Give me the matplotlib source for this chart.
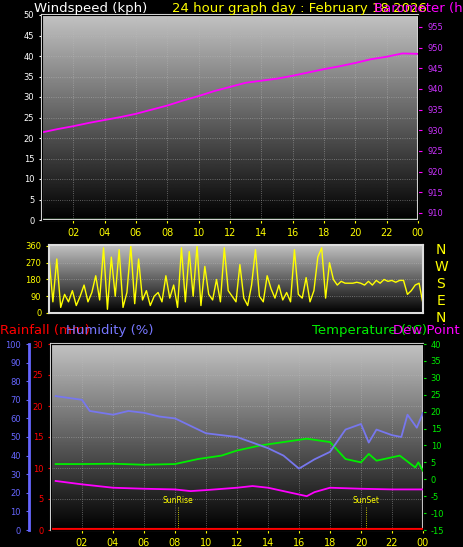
import numpy as np
import matplotlib
matplotlib.use("Agg")
import matplotlib.pyplot as plt
plt.rcParams["axes.unicode_minus"] = False

W, H = 464, 547
hours_p = list(range(25))
pressure = [929.5, 930.3, 931.0, 931.8, 932.5, 933.2, 934.0, 935.0, 936.0, 937.2, 938.3, 939.5,
            940.5, 941.5, 942.0, 942.5, 943.2, 944.0, 944.8, 945.5, 946.3, 947.2, 947.8, 948.6, 948.5]
windspeed = [0.3] * 25

wd_hours = [i * 0.25 for i in range(97)]
wind_dir = [300, 60, 290, 30, 100, 60, 120, 40, 90, 150, 60, 110, 200, 70, 350, 20, 300, 90, 340, 30,
            110, 360, 50, 290, 70, 120, 40, 90, 110, 60, 200, 80, 150, 30, 350, 60, 330, 90, 360, 40,
            250, 100, 70, 180, 60, 350, 120, 90, 60, 260, 80, 40, 150, 340, 90, 60, 200, 130, 80, 150,
            70, 110, 60, 340, 100, 80, 190, 60, 120, 300, 350, 80, 270, 180, 150, 170, 160, 160, 160, 165,
            160, 150, 170, 150, 175, 160, 180, 170, 175, 165, 175, 175, 100, 120, 150, 160, 50]

hum_h = [0.3, 2, 2.5, 4, 5, 6, 7, 8, 9, 10, 11, 12, 13, 14, 15, 16, 17, 18, 19, 20, 20.5, 21, 22, 22.6, 23, 23.6, 24]
humidity = [72, 70, 64, 62, 64, 63, 61, 60, 56, 52, 51, 50, 47, 44, 40, 33, 38, 42, 54, 57, 47, 54, 51, 50, 62, 55, 63]
temp_h = [0.3, 2, 4, 6, 8, 9.5, 11, 12, 13.5, 15, 16.5, 18, 19, 20, 20.5, 21, 22.5, 23.5, 23.7, 24]
temperature = [4.5, 4.5, 4.6, 4.3, 4.5, 6, 7, 8.5, 10, 11, 12, 11, 6, 5, 7.5, 5.5, 7, 3.5, 5, 2.5]
dew_h = [0.3, 2, 4, 6, 8, 9, 10, 12, 13, 14, 15, 16, 16.5, 17, 18, 20, 22, 24]
dewpoint = [-0.5, -1.5, -2.5, -2.8, -3, -3.5, -3.2, -2.5, -2, -2.5, -3.5, -4.5, -5, -3.8, -2.5, -2.8, -3, -3]
rain_h = [0, 24]
rainfall = [0, 0]
xticks = [2, 4, 6, 8, 10, 12, 14, 16, 18, 20, 22, 24]
xticklabels = ["02", "04", "06", "08", "10", "12", "14", "16", "18", "20", "22", "00"]

fig = plt.figure(figsize=(W / 100, H / 100), dpi=100, facecolor="black")

def rect(l, t, r, b):
    return [l / W, 1 - b / H, (r - l) / W, (b - t) / H]

grad = np.linspace(0.76, 0.0, 256).reshape(-1, 1)

def style(ax):
    ax.set_facecolor("black")
    ax.imshow(grad, cmap="gray", vmin=0, vmax=1, aspect="auto", extent=[0, 1, 0, 1],
              transform=ax.transAxes, zorder=0)
    ax.grid(True, color="#bbbbbb", ls=":", lw=0.6, alpha=0.6)
    for s in ax.spines.values():
        s.set_color("#dddddd")
        s.set_linewidth(1.5)
    ax.set_xlim(0, 24)
    ax.set_xticks(xticks)
    ax.set_xticklabels(xticklabels, color="yellow", fontsize=7)
    ax.tick_params(axis="x", colors="yellow", length=2)

# Panel 1
ax1 = fig.add_axes(rect(42, 15, 418, 220))
style(ax1)
ax1.set_ylim(0, 50)
ax1.set_yticks(range(0, 51, 5))
ax1.tick_params(axis="y", colors="white", labelsize=6, length=2)
ax1.plot(hours_p, windspeed, color="#88dd88", lw=1)
axp = ax1.twinx()
axp.set_ylim(908.3, 957.9)
axp.set_yticks(range(910, 956, 5))
axp.tick_params(axis="y", colors="#ff00ff", labelsize=6, length=3)
for lab in axp.get_yticklabels():
    lab.set_color("#cc33ff")
axp.plot(hours_p, pressure, color="#ff00ff", lw=1.3)
fig.text(34 / W, 1 - 12 / H, "Windspeed (kph)", color="white", fontsize=9.5)
fig.text(172 / W, 1 - 12 / H, "24 hour graph day : February 18 2026", color="yellow", fontsize=9.5)
fig.text(374 / W, 1 - 12 / H, "Barometer (hpa)", color="#ff00ff", fontsize=9.5)

# Panel 2
ax2 = fig.add_axes(rect(49, 245, 423, 313))
style(ax2)
ax2.set_xticks([])
ax2.set_ylim(0, 365)
ax2.set_yticks([0, 90, 180, 270, 360])
ax2.tick_params(axis="y", colors="yellow", labelsize=6, length=2)
ax2.plot(wd_hours, wind_dir, color="yellow", lw=1)
for i, c in enumerate("NWSEN"):
    fig.text(441 / W, 1 - (250 + i * 17) / H, c, color="yellow", fontsize=10, ha="center", va="center")

# Panel 3
ax3 = fig.add_axes(rect(51, 344, 423, 530))
style(ax3)
ax3.set_ylim(0, 30)
ax3.set_yticks(range(0, 31, 5))
ax3.tick_params(axis="y", colors="red", labelsize=6, length=2)
ax3.plot(rain_h, rainfall, color="red", lw=3, zorder=5)
for x, lab in [(8.2, "SunRise"), (20.3, "SunSet")]:
    ax3.plot([x, x], [0, 3.8], color="yellow", lw=0.6, ls=":")
    ax3.text(x, 4.3, lab, color="yellow", fontsize=5.5, ha="center")
axt = ax3.twinx()
axt.set_ylim(-15, 40)
axt.set_yticks(range(-15, 41, 5))
axt.tick_params(axis="y", colors="#00ee00", labelsize=6, length=2)
axt.plot(temp_h, temperature, color="#00ee00", lw=1.3)
axt.plot(dew_h, dewpoint, color="#ff00ff", lw=1.3)
axh = ax3.twinx()
axh.set_ylim(0, 100)
axh.yaxis.set_ticks_position("left")
axh.spines["left"].set_position(("axes", -0.06))
axh.spines["left"].set_color("#6666ff")
axh.spines["left"].set_linewidth(2)
axh.set_yticks(range(0, 101, 10))
axh.tick_params(axis="y", colors="#6666ff", labelsize=6, length=2)
axh.plot(hum_h, humidity, color="#7777ee", lw=1.3)
axt.set_zorder(2); axt.patch.set_visible(False)
axh.set_zorder(3); axh.patch.set_visible(False)
fig.text(0 / W, 1 - 334 / H, "Rainfall (mm)", color="red", fontsize=9.5)
fig.text(66 / W, 1 - 334 / H, "Humidity (%)", color="#7777ff", fontsize=9.5)
fig.text(312 / W, 1 - 334 / H, "Temperature (°C)", color="#00ee00", fontsize=9.5)
fig.text(393 / W, 1 - 334 / H, "Dew Point (°C)", color="#ff00ff", fontsize=9.5)

fig.savefig("out.png", dpi=100, facecolor="black")
